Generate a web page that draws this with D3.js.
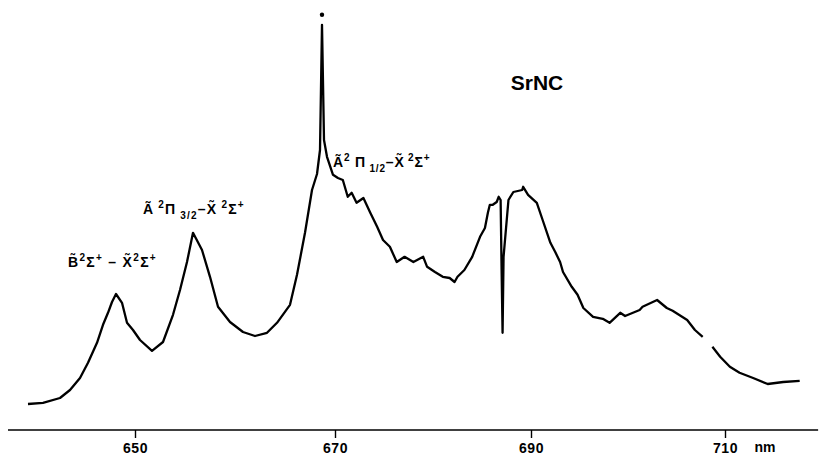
<!DOCTYPE html>
<html>
<head>
<meta charset="utf-8">
<script src="https://cdn.jsdelivr.net/npm/d3@7"></script>
<style>
  body { margin: 0; background: #fff; }
  text { font-family: "Liberation Sans", Arial, sans-serif; font-weight: bold; fill: #000; }
</style>
</head>
<body>
<div id="chart"></div>
<script>
// wavelength (nm) and relative intensity; null = gap in the trace
const wavelength = [639.3, 640.8, 642.5, 643.5, 644.5, 645.3, 646.2, 646.8, 647.3, 647.7,
  648.1, 648.7, 649.2, 649.8, 650.5, 651.7, 652.8, 653.8, 654.5, 655.2,
  655.8, 656.7, 657.5, 658.3, 659.5, 660.8, 662.0, 663.2, 664.2, 665.5,
  666.2, 667.0, 667.7, 668.2, 668.5, 668.7, 668.9, 669.2, 669.8, 670.3,
  670.8, 671.3, 671.7, 672.2, 672.9, 673.6, 674.3, 674.9, 675.6, 676.3,
  677.1, 678.0, 679.0, 679.4, 680.2, 681.0, 681.7, 682.2, 682.5, 683.2,
  684.0, 684.8, 685.3, 685.6, 685.8, 686.1, 686.5, 686.7, 686.9, 687.0,
  687.1, 687.2, 687.7, 688.2, 689.1, 689.2, 689.7, 690.6, 691.2, 692.0,
  692.5, 693.0, 693.3, 694.2, 694.8, 695.4, 696.4, 697.4, 698.1, 699.2,
  699.7, 701.2, 701.5, 703.0, 704.0, 704.6, 706.1, 706.9, 707.7, 708.2,
  708.7, 709.5, 710.5, 711.5, 712.9, 714.4, 716.0, 717.7];
const intensity = [6.5, 6.8, 8.0, 10.0, 13.0, 16.8, 21.8, 26.3, 29.3, 32.0,
  34.0, 31.8, 26.8, 25.0, 22.5, 19.8, 22.0, 28.8, 35.0, 42.0,
  49.3, 45.0, 38.3, 30.8, 27.0, 24.5, 23.5, 24.3, 26.8, 31.3,
  38.8, 49.3, 60.0, 64.0, 70.0, 101.3, 72.5, 68.3, 63.8, 63.0,
  62.5, 58.3, 59.3, 56.8, 58.0, 54.3, 50.8, 47.5, 45.8, 42.0,
  43.3, 42.0, 43.3, 40.8, 39.5, 38.3, 38.0, 37.0, 38.3, 40.0,
  43.3, 48.3, 50.5, 54.3, 56.3, 56.3, 57.0, 58.3, 57.5, 40.0,
  24.3, 43.3, 57.5, 59.5, 60.0, 60.8, 58.8, 56.8, 52.5, 46.8,
  44.5, 42.0, 39.5, 35.8, 33.8, 30.5, 28.3, 27.8, 26.8, 29.3,
  28.5, 30.0, 30.8, 32.5, 30.5, 29.8, 27.5, 25.0, 23.3, null,
  20.8, 18.3, 15.8, 14.3, 13.0, 11.5, 12.0, 12.3];

const tickValues = [650, 670, 690, 710];
const tickLabels = ['650', '670', '690', '710'];
const axisRange = [637.3, 719.6];
const markerPoint = { wavelength: 668.7, intensity: 103.8 };

const width = 820, height = 455;
const svg = d3.select('#chart').append('svg')
    .attr('width', width)
    .attr('height', height);

// the dispersion is slightly non-linear, so each 20 nm step gets its own span
const x = d3.scaleLinear()
    .domain(tickValues)
    .range([135, 335, 531, 725]);
const y = d3.scaleLinear()
    .domain([0, 100])
    .range([430, 30]);

const data = wavelength.map((w, i) => ({ w: w, v: intensity[i] }));

// axis
const axisY = y(0);
svg.append('line')
    .attr('x1', x(axisRange[0])).attr('x2', x(axisRange[1]))
    .attr('y1', axisY).attr('y2', axisY)
    .attr('stroke', '#000').attr('stroke-width', 1.6);

const axis = d3.axisBottom(x)
    .tickValues(tickValues)
    .tickFormat((d, i) => tickLabels[i])
    .tickSize(8)
    .tickPadding(5);
const axisG = svg.append('g')
    .attr('transform', `translate(0,${axisY})`)
    .call(axis);
axisG.select('.domain').remove();
axisG.selectAll('.tick line').attr('stroke', '#000').attr('stroke-width', 1.4);
axisG.selectAll('.tick text')
    .style('font-family', '"Liberation Sans", Arial, sans-serif')
    .style('font-weight', 'bold')
    .style('font-size', '14px')
    .style('letter-spacing', '0.5px');

svg.append('text')
    .attr('x', 765).attr('y', 452)
    .attr('text-anchor', 'middle')
    .style('font-size', '14px')
    .text('nm');

// spectrum trace
const line = d3.line()
    .defined(d => d.v != null)
    .x(d => x(d.w))
    .y(d => y(d.v));
svg.append('path')
    .datum(data)
    .attr('d', line)
    .attr('fill', 'none')
    .attr('stroke', '#000')
    .attr('stroke-width', 2.3)
    .attr('stroke-linejoin', 'round');

svg.append('circle')
    .attr('cx', x(markerPoint.wavelength))
    .attr('cy', y(markerPoint.intensity))
    .attr('r', 2.2)
    .attr('fill', '#000');

// title
svg.append('text')
    .attr('x', 537).attr('y', 90)
    .attr('text-anchor', 'middle')
    .style('font-size', '21px')
    .text('SrNC');

// band labels built from pieces: n = normal, sup, sub
function bandLabel(px, py, parts, size, spacing) {
  const t = svg.append('text').attr('x', px).attr('y', py)
      .style('font-size', size + 'px')
      .style('letter-spacing', spacing + 'px');
  let shift = 0;
  parts.forEach(p => {
    const target = p[1] === 'sup' ? -6 : p[1] === 'sub' ? 5 : 0;
    t.append('tspan')
      .attr('dy', target - shift)
      .style('font-size', p[1] === 'n' ? size + 'px' : Math.round(size * 0.72) + 'px')
      .text(p[0]);
    shift = target;
  });
  return t;
}

bandLabel(68, 267, [['B\u0303', 'n'], ['2', 'sup'], ['\u03A3', 'n'], ['+', 'sup'],
  [' \u2013 ', 'n'], ['X\u0303', 'n'], ['2', 'sup'], ['\u03A3', 'n'], ['+', 'sup']], 14, 1.3);

bandLabel(143, 214, [['A\u0303', 'n'], [' 2', 'sup'], ['\u03A0', 'n'], [' 3/2', 'sub'],
  ['\u2013', 'n'], ['X\u0303', 'n'], [' 2', 'sup'], ['\u03A3', 'n'], ['+', 'sup']], 14, 1.2);

bandLabel(333, 167, [['A\u0303', 'n'], ['2', 'sup'], [' \u03A0', 'n'], [' 1/2', 'sub'],
  ['\u2013', 'n'], ['X\u0303', 'n'], [' 2', 'sup'], ['\u03A3', 'n'], ['+', 'sup']], 14, 0.8);
</script>
</body>
</html>
